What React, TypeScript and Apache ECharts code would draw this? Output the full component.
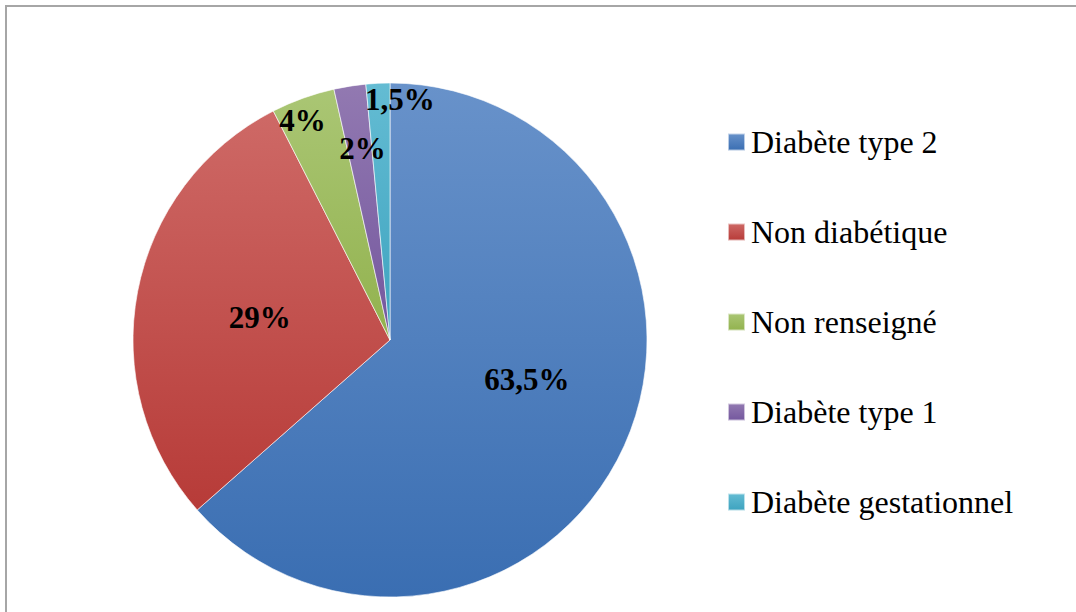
import React, { useEffect, useRef } from "react";
import * as echarts from "echarts";

const categories = ["Diabète type 2", "Non diabétique", "Non renseigné", "Diabète type 1", "Diabète gestationnel"];
const values = [63.5, 29, 4, 2, 1.5];
const labels = ["63,5%", "29%", "4%", "2%", "1,5%"];
const topColors = ["#6892CA", "#CE6966", "#AAC674", "#9279B1", "#64BCD3"];
const bottomColors = ["#3A6EB2", "#B73B38", "#92B24E", "#74579E", "#3DA3BF"];

// label nudges relative to ECharts' default inside position
const labelShift: [number, number][] = [
  [17, -15],
  [-1, 2],
  [-43, -96],
  [-7, -62],
  [16, -109],
];

export default function App() {
  const ref = useRef<HTMLDivElement>(null);
  useEffect(() => {
    if (!ref.current) return;
    const chart = echarts.init(ref.current, null, { renderer: "svg" });
    const data = categories.map((name, i) => ({
      name,
      value: values[i],
      itemStyle: {
        color: new echarts.graphic.LinearGradient(0, 0, 0, 1, [
          { offset: 0, color: topColors[i] },
          { offset: 1, color: bottomColors[i] },
        ]),
      },
    }));
    chart.setOption({
      animation: false,
      backgroundColor: "#ffffff",
      graphic: [
        { type: "line", shape: { x1: 5, y1: 6, x2: 1076, y2: 6 }, style: { stroke: "#a6a6a6", lineWidth: 2 } },
        { type: "line", shape: { x1: 6, y1: 5, x2: 6, y2: 612 }, style: { stroke: "#a6a6a6", lineWidth: 2 } },
      ],
      legend: {
        orient: "vertical",
        left: 727,
        top: 126,
        padding: 0,
        itemWidth: 17,
        itemHeight: 17,
        itemGap: 58,
        icon: "rect",
        data: categories,
        textStyle: {
          fontFamily: "'Liberation Serif', 'Times New Roman', serif",
          fontSize: 32,
          lineHeight: 30,
          color: "#000",
          padding: [0, 0, 0, 1],
        },
      },
      series: [
        {
          type: "pie",
          center: [390, 340],
          radius: [0, 257],
          startAngle: 90,
          clockwise: true,
          avoidLabelOverlap: false,
          itemStyle: { borderColor: "rgba(255,255,255,0.6)", borderWidth: 1 },
          label: {
            show: true,
            position: "inside",
            formatter: (p: any) => labels[p.dataIndex],
            fontFamily: "'Liberation Serif', 'Times New Roman', serif",
            fontWeight: "bold",
            fontSize: 31,
            color: "#000",
          },
          labelLine: { show: false },
          labelLayout: (p: any) => ({ dx: labelShift[p.dataIndex][0], dy: labelShift[p.dataIndex][1] }),
          emphasis: { disabled: true },
          data,
        },
      ],
    });
    return () => chart.dispose();
  }, []);
  return <div ref={ref} style={{ position: "fixed", left: 0, top: 0, width: 1076, height: 612 }} />;
}
